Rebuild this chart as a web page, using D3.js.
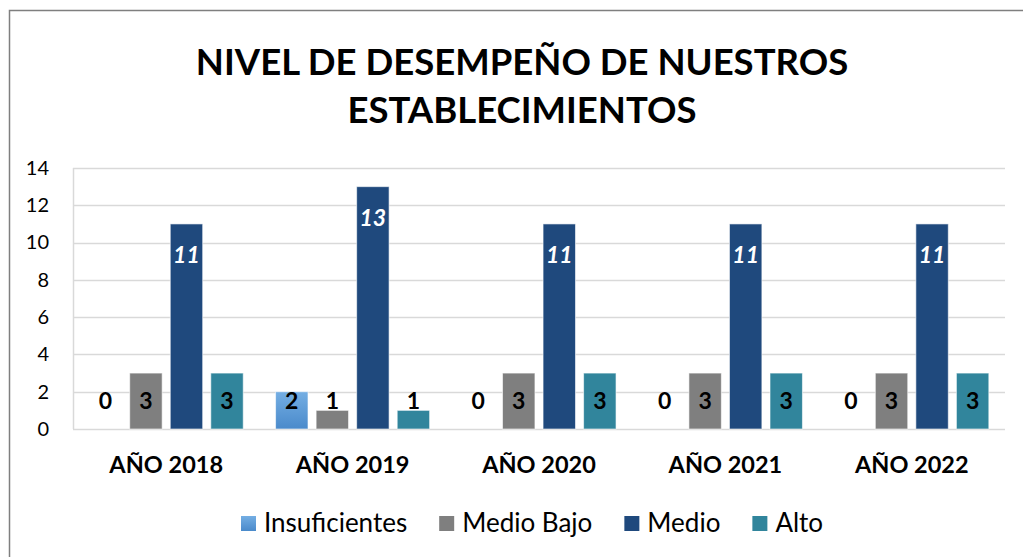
<!DOCTYPE html>
<html>
<head>
<meta charset="utf-8">
<script src="https://cdn.jsdelivr.net/npm/d3@7"></script>
<style>
  body { margin: 0; background: #fff; }
  text { font-family: Lato, "Open Sans", sans-serif; }
</style>
</head>
<body>
<div id="chart"></div>
<script>
(function() {
  var width = 1023,
      height = 557;

  // data
  var years = ["AÑO 2018", "AÑO 2019", "AÑO 2020", "AÑO 2021", "AÑO 2022"];
  var seriesNames = ["Insuficientes", "Medio Bajo", "Medio", "Alto"];
  var insuficientes = [0, 2, 0, 0, 0];
  var medioBajo = [3, 1, 3, 3, 3];
  var medio = [11, 13, 11, 11, 11];
  var alto = [3, 1, 3, 3, 3];
  var yTicks = [0, 2, 4, 6, 8, 10, 12, 14];
  var colors = ["#5b9bd5", "#7f7f7f", "#1f497d", "#31859c"];

  var values = [insuficientes, medioBajo, medio, alto];

  var svg = d3.select("#chart")
    .append("svg")
    .attr("width", width)
    .attr("height", height);

  var defs = svg.append("defs");
  var grad = defs.append("linearGradient")
    .attr("id", "insGrad")
    .attr("x1", 0).attr("y1", 0).attr("x2", 0).attr("y2", 1);
  grad.append("stop").attr("offset", "0%").attr("stop-color", "#74aee3");
  grad.append("stop").attr("offset", "100%").attr("stop-color", "#4a8acb");

  // chart frame
  svg.append("rect")
    .attr("x", 9.5)
    .attr("y", 10.5)
    .attr("width", width)
    .attr("height", height)
    .attr("fill", "none")
    .attr("stroke", "#7f7f7f")
    .attr("stroke-width", 1.5);

  // title
  svg.append("text")
    .attr("x", 522)
    .attr("y", 75)
    .attr("text-anchor", "middle")
    .attr("font-size", 36.5)
    .attr("font-weight", "bold")
    .attr("fill", "#000")
    .text("NIVEL DE DESEMPEÑO DE NUESTROS");
  svg.append("text")
    .attr("x", 522)
    .attr("y", 123)
    .attr("text-anchor", "middle")
    .attr("font-size", 36.5)
    .attr("font-weight", "bold")
    .attr("fill", "#000")
    .text("ESTABLECIMIENTOS");

  var x0 = d3.scaleBand()
    .domain(years)
    .range([73, 1005])
    .paddingInner(0.13)
    .paddingOuter(0.065);

  var x1 = d3.scaleBand()
    .domain(seriesNames)
    .range([0, x0.bandwidth()])
    .paddingInner(0.2)
    .paddingOuter(0.1);

  var y = d3.scaleLinear()
    .domain([0, 14])
    .range([429, 168]);

  // gridlines
  svg.append("g")
    .selectAll("line")
    .data(yTicks)
    .enter().append("line")
    .attr("x1", 73)
    .attr("x2", 1005)
    .attr("y1", function(d) { return Math.round(y(d)) + 0.5; })
    .attr("y2", function(d) { return Math.round(y(d)) + 0.5; })
    .attr("stroke", "#d9d9d9")
    .attr("stroke-width", 1.5);

  // y axis line
  svg.append("line")
    .attr("x1", 73.5).attr("x2", 73.5)
    .attr("y1", y(14)).attr("y2", y(0))
    .attr("stroke", "#d9d9d9")
    .attr("stroke-width", 1.5);

  var yAxis = svg.append("g")
    .attr("transform", "translate(73,0)")
    .call(d3.axisLeft(y).tickValues(yTicks).tickSize(0).tickPadding(24));
  yAxis.select(".domain").remove();
  yAxis.selectAll("text")
    .attr("font-size", 20)
    .attr("font-family", "Lato, sans-serif")
    .attr("fill", "#000");

  var xAxis = svg.append("g")
    .attr("transform", "translate(0,429)")
    .call(d3.axisBottom(x0).tickSize(0).tickPadding(27));
  xAxis.select(".domain").remove();
  xAxis.selectAll("text")
    .attr("font-size", 23.5)
    .attr("font-weight", "bold")
    .attr("font-family", "Lato, sans-serif")
    .attr("fill", "#000");

  // bars
  var groups = svg.append("g")
    .selectAll("g")
    .data(years)
    .enter().append("g")
    .attr("transform", function(d) { return "translate(" + x0(d) + ",0)"; });

  groups.each(function(year, i) {
    var g = d3.select(this);
    seriesNames.forEach(function(s, k) {
      var v = values[k][i];
      if (v > 0) {
        g.append("rect")
          .attr("x", x1(s))
          .attr("y", y(v))
          .attr("width", x1.bandwidth())
          .attr("height", y(0) - y(v))
          .attr("fill", k === 0 ? "url(#insGrad)" : colors[k])
          .attr("stroke", "rgba(255,255,255,0.6)")
          .attr("stroke-width", 1);
      }
      var lbl = g.append("text")
        .attr("x", x1(s) + x1.bandwidth() / 2)
        .attr("text-anchor", "middle")
        .attr("font-size", 23)
        .attr("font-weight", "bold")
        .text(v);
      if (s === "Medio") {
        lbl.attr("y", y(v) + 39)
          .attr("fill", "#fff")
          .attr("font-style", "italic");
      } else {
        lbl.attr("y", y(0) - 20)
          .attr("fill", "#000");
      }
    });
  });

  // legend
  var legend = svg.append("g");
  var lx = 241;
  seriesNames.forEach(function(s, k) {
    var item = legend.append("g").attr("transform", "translate(" + lx + ",0)");
    item.append("rect")
      .attr("x", 0)
      .attr("y", 516)
      .attr("width", 15)
      .attr("height", 15)
      .attr("fill", k === 0 ? "url(#insGrad)" : colors[k]);
    var t = item.append("text")
      .attr("x", 23)
      .attr("y", 532)
      .attr("font-size", 26)
      .attr("fill", "#000")
      .text(s);
    lx += 23 + t.node().getComputedTextLength() + 32;
  });
})();
</script>
</body>
</html>
